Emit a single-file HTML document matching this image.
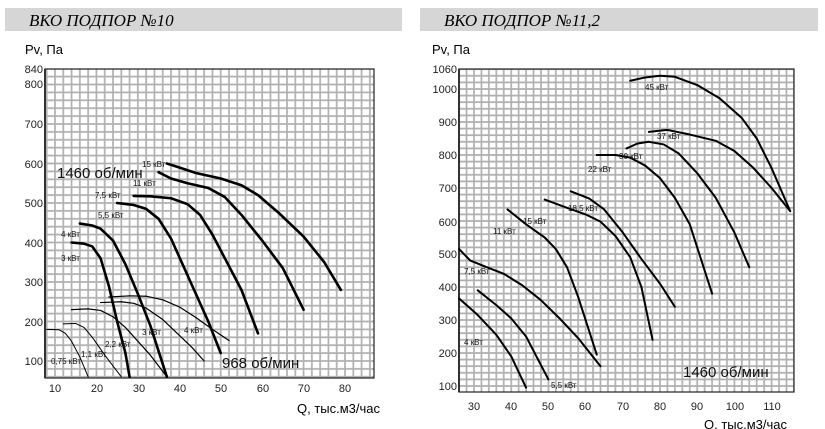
<!DOCTYPE html>
<html><head><meta charset="utf-8"><style>
body{margin:0;background:#fff;}
svg{display:block;font-family:"Liberation Sans","DejaVu Sans",sans-serif;}
.t{font-family:"Liberation Serif",serif;font-style:italic;font-size:17px;}
.tk{font-size:11px;fill:#222;}
.lb{font-size:8px;fill:#111;}
.big{font-size:15px;fill:#111;}
.c{fill:none;stroke:#000;stroke-linejoin:round;stroke-linecap:round;}
</style></head><body>
<svg width="825" height="429" viewBox="0 0 825 429">
<defs>
<pattern id="g1" patternUnits="userSpaceOnUse" x="54" y="360" width="8.286" height="7.9">
<path d="M1 0V7.9M0 1H8.286" stroke="#b0b0b0" stroke-width="1.7" fill="none"/></pattern>
<pattern id="g2" patternUnits="userSpaceOnUse" x="473" y="385" width="7.44" height="6.6">
<path d="M1 0V6.6M0 1H7.44" stroke="#b0b0b0" stroke-width="1.7" fill="none"/></pattern>
</defs>
<rect x="5" y="8" width="397" height="23" fill="#d6d6d6"/>
<rect x="420" y="8" width="398" height="23" fill="#d6d6d6"/>
<text class="t" x="29" y="26">ВКО ПОДПОР №10</text>
<text class="t" x="444" y="26">ВКО ПОДПОР №11,2</text>

<!-- left chart -->
<text x="25" y="54" font-size="13">Pv, Па</text>
<rect x="45" y="69" width="329" height="309" fill="url(#g1)"/>
<rect x="45" y="69" width="329" height="309" fill="none" stroke="#222" stroke-width="1.2"/>
<line x1="45" y1="69" x2="45" y2="378" stroke="#333" stroke-width="2"/>
<g class="tk" text-anchor="end">
<text x="43" y="73">840</text><text x="43" y="88">800</text><text x="43" y="128">700</text>
<text x="43" y="168">600</text><text x="43" y="207">500</text><text x="43" y="247">400</text>
<text x="43" y="286">300</text><text x="43" y="326">200</text><text x="43" y="365">100</text>
</g>
<g class="tk" text-anchor="middle">
<text x="55" y="392">10</text><text x="97" y="392">20</text><text x="139" y="392">30</text>
<text x="180" y="392">40</text><text x="221" y="392">50</text><text x="263" y="392">60</text>
<text x="304" y="392">70</text><text x="345" y="392">80</text>
</g>
<text x="297" y="413" font-size="13">Q, тыс.м3/час</text>
<g transform="matrix(4.143 0 0 -0.395 13.57 400.5)">
<g class="c" stroke-width="2.6">
<polyline vector-effect="non-scaling-stroke" points="37,600 40,590 44,576 50,562 55,545 59,520 64,475 70,415 75,350 79,280"/>
<polyline vector-effect="non-scaling-stroke" points="35,578 38,562 42,550 47,538 51,515 55,470 60,405 65,335 70,230"/>
<polyline vector-effect="non-scaling-stroke" points="29,518 33,517 38,512 42,497 45,470 48,420 52,340 55,280 59,170"/>
<polyline vector-effect="non-scaling-stroke" points="25,500 29,495 32,485 35,460 38,410 41,340 44,270 47,200 50,120"/>
<polyline vector-effect="non-scaling-stroke" points="16,448 19,443 21,435 24,405 27,345 30,270 33,190 37,60"/>
<polyline vector-effect="non-scaling-stroke" points="14,400 17,397 19,390 21,360 23,290 25,200 27,120 28,60"/>
</g>
<g class="c">
<polyline vector-effect="non-scaling-stroke" stroke-width="1" points="8,180 11,179 12.5,170 14,150 16,110 18,60"/>
<polyline vector-effect="non-scaling-stroke" stroke-width="1" points="12,194 15,195 17,185 19,160 22,115 26,60"/>
<polyline vector-effect="non-scaling-stroke" stroke-width="1.2" points="14,230 18,232 21,228 24,212 27,185 30,150 33,115 37,60"/>
<polyline vector-effect="non-scaling-stroke" stroke-width="1.2" points="21,248 26,250 29,246 32,234 36,205 40,165 43,135 46,100"/>
<polyline vector-effect="non-scaling-stroke" stroke-width="1.2" points="23,262 28,265 32,264 36,255 40,237 44,210 48,180 52,152"/>
</g>
</g>
<text class="big" x="57" y="178">1460 об/мин</text>
<text class="big" x="222" y="368">968 об/мин</text>
<g class="lb">
<text x="142" y="167">15 кВт</text><text x="133" y="186">11 кВт</text>
<text x="95" y="198">7,5 кВт</text><text x="98" y="218">5,5 кВт</text>
<text x="61" y="237">4 кВт</text><text x="61" y="261">3 кВт</text>
<text x="142" y="335">3 кВт</text><text x="184" y="333">4 кВт</text>
<text x="105" y="347">2,2 кВт</text><text x="81" y="357">1,1 кВт</text>
<text x="51" y="364">0,75 кВт</text>
</g>

<!-- right chart -->
<text x="432" y="54" font-size="13">Pv, Па</text>
<rect x="459" y="69" width="335" height="323" fill="url(#g2)"/>
<rect x="459" y="69" width="335" height="323" fill="none" stroke="#222" stroke-width="1.2"/>
<line x1="459" y1="69" x2="459" y2="392" stroke="#333" stroke-width="2"/>
<g class="tk" text-anchor="end">
<text x="457" y="73">1060</text><text x="457" y="93">1000</text><text x="457" y="126">900</text>
<text x="457" y="159">800</text><text x="457" y="192">700</text><text x="457" y="226">600</text>
<text x="457" y="258">500</text><text x="457" y="291">400</text><text x="457" y="324">300</text>
<text x="457" y="357">200</text><text x="457" y="390">100</text>
</g>
<g class="tk" text-anchor="middle">
<text x="474" y="410">30</text><text x="511" y="410">40</text><text x="548" y="410">50</text>
<text x="585" y="410">60</text><text x="623" y="410">70</text><text x="660" y="410">80</text>
<text x="697" y="410">90</text><text x="735" y="410">100</text><text x="772" y="410">110</text>
</g>
<text x="704" y="429" font-size="13">Q, тыс.м3/час</text>
<g transform="matrix(3.72 0 0 -0.33 362.4 419)">
<g class="c">
<polyline vector-effect="non-scaling-stroke" stroke-width="2" points="72,1025 76,1035 80,1040 84,1037 90,1012 96,972 102,912 106,850 110,760 115,630"/>
<polyline vector-effect="non-scaling-stroke" stroke-width="2" points="77,870 82,876 88,862 95,843 100,812 105,762 110,700 115,630"/>
<polyline vector-effect="non-scaling-stroke" stroke-width="2" points="71,820 74,835 77,840 81,832 85,805 90,745 95,670 100,565 104,460"/>
<polyline vector-effect="non-scaling-stroke" stroke-width="2" points="63,800 68,800 72,792 76,768 80,730 84,670 88,590 94,380"/>
<polyline vector-effect="non-scaling-stroke" stroke-width="2" points="56,690 61,668 65,635 70,565 75,485 80,410 84,340"/>
<polyline vector-effect="non-scaling-stroke" stroke-width="2" points="49,665 55,640 60,620 64,598 68,555 72,490 75,400 78,240"/>
<polyline vector-effect="non-scaling-stroke" stroke-width="2" points="39,635 44,590 49,550 52,515 55,460 58,370 63,195"/>
<polyline vector-effect="non-scaling-stroke" stroke-width="2" points="26,515 29,480 33,462 38,440 43,405 48,360 53,305 58,245 64,160"/>
<polyline vector-effect="non-scaling-stroke" stroke-width="2" points="31,390 36,345 40,305 44,250 50,120"/>
<polyline vector-effect="non-scaling-stroke" stroke-width="2" points="26,365 31,315 36,255 40,190 44,95"/>
</g>
</g>
<text class="big" x="683" y="377">1460 об/мин</text>
<g class="lb">
<text x="645" y="90">45 кВт</text><text x="657" y="139">37 кВт</text>
<text x="619" y="159">30 кВт</text><text x="588" y="172">22 кВт</text>
<text x="568" y="211">18,5 кВт</text><text x="523" y="224">15 кВт</text>
<text x="493" y="234">11 кВт</text><text x="464" y="274">7,5 кВт</text>
<text x="464" y="345">4 кВт</text><text x="551" y="388">5,5 кВт</text>
</g>
</svg>
</body></html>
